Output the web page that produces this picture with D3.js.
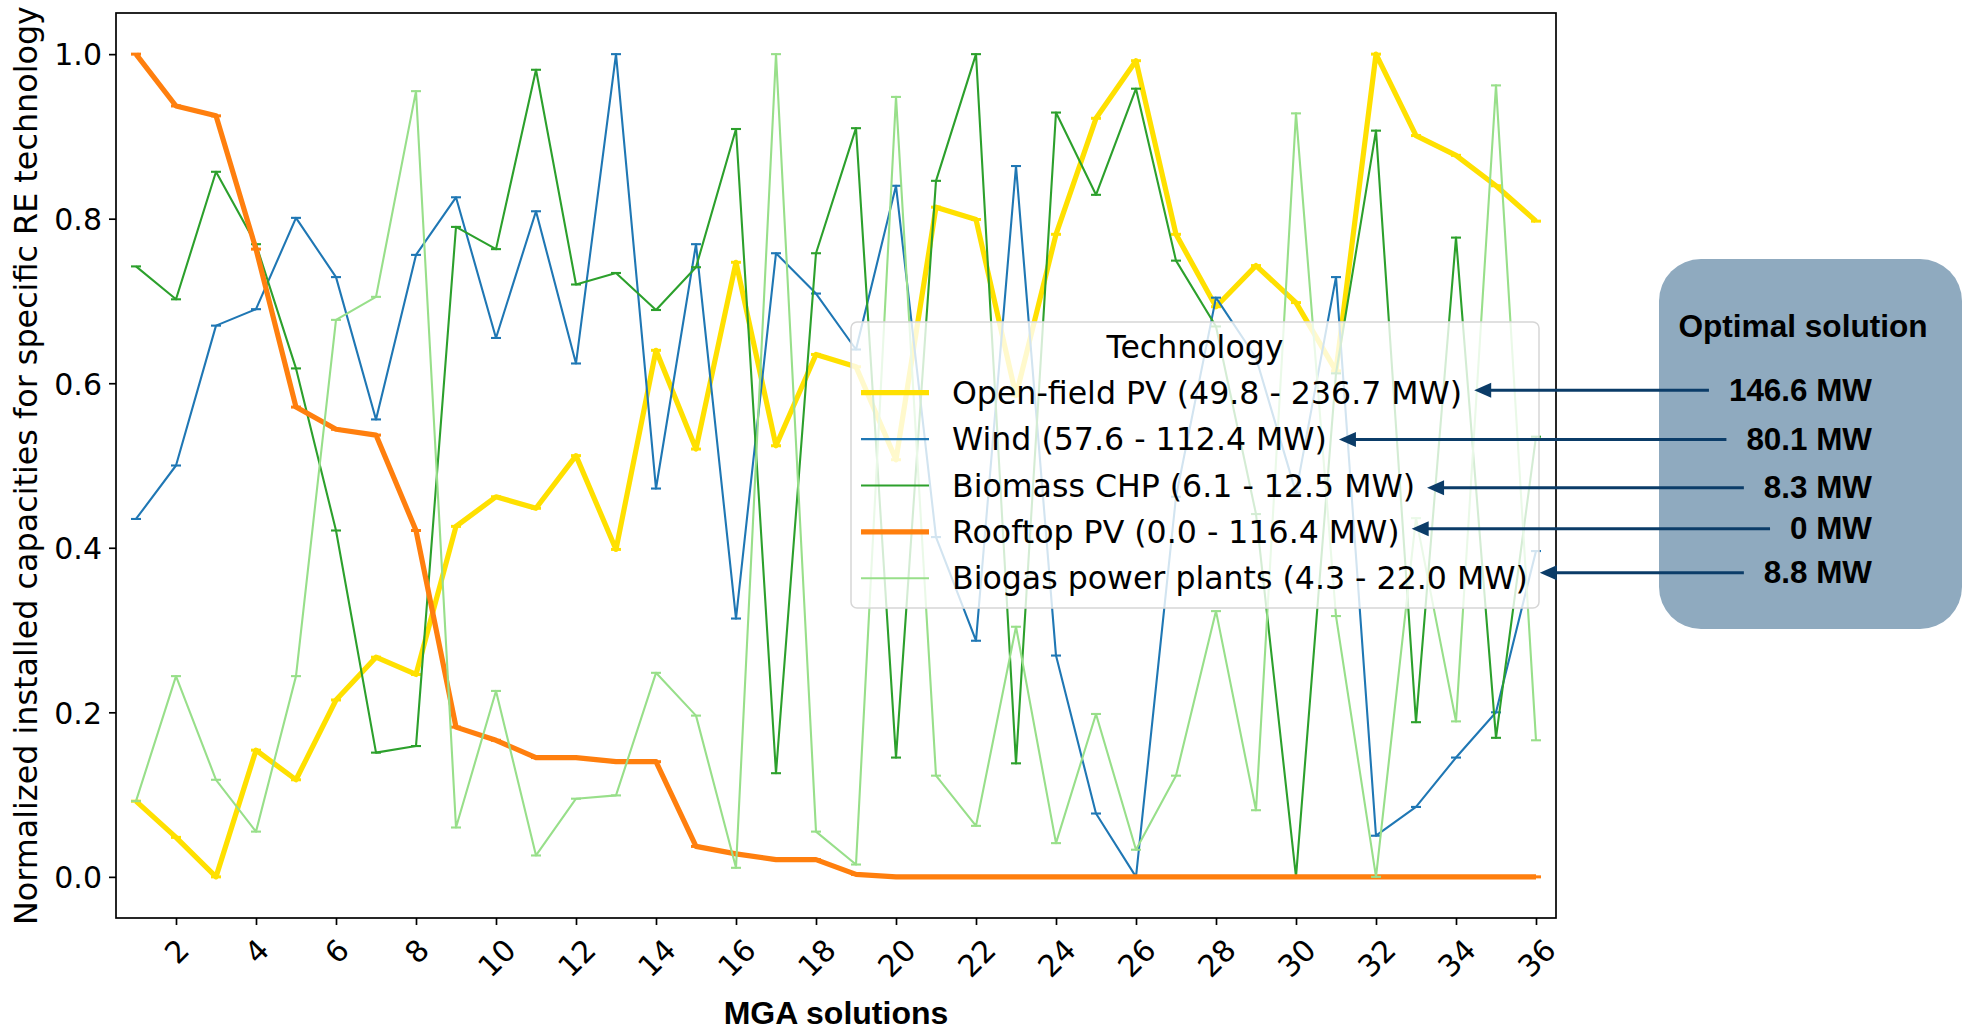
<!DOCTYPE html>
<html><head><meta charset="utf-8">
<script src="https://cdn.jsdelivr.net/npm/d3@7/dist/d3.min.js"></script>
<style>html,body{margin:0;padding:0;background:#fff}svg{display:block}</style>
</head><body>
<script>
// ---------------- data ----------------
const solutions = [1,2,3,4,5,6,7,8,9,10,11,12,13,14,15,16,17,18,19,20,21,22,23,24,25,26,27,28,29,30,31,32,33,34,35,36];
const openFieldPV = [0.092,0.048,0.0,0.154,0.118,0.215,0.267,0.246,0.426,0.462,0.448,0.512,0.398,0.640,0.520,0.747,0.524,0.635,0.620,0.507,0.814,0.799,0.585,0.781,0.922,0.992,0.781,0.693,0.743,0.698,0.615,1.0,0.901,0.877,0.840,0.797];
const wind = [0.435,0.500,0.670,0.690,0.801,0.729,0.556,0.756,0.826,0.655,0.809,0.624,1.0,0.472,0.769,0.314,0.758,0.709,0.641,0.840,0.413,0.287,0.864,0.269,0.077,0.0,0.462,0.704,0.631,0.467,0.729,0.050,0.085,0.145,0.200,0.396];
const biomassCHP = [0.742,0.702,0.857,0.769,0.618,0.421,0.151,0.159,0.790,0.763,0.981,0.720,0.734,0.689,0.741,0.909,0.126,0.758,0.910,0.145,0.846,1.0,0.138,0.929,0.829,0.958,0.749,0.669,0.441,0.0,0.612,0.907,0.188,0.777,0.169,0.535];
const rooftopPV = [1.0,0.937,0.925,0.763,0.571,0.544,0.537,0.421,0.182,0.166,0.145,0.145,0.140,0.140,0.037,0.028,0.021,0.021,0.003,0,0,0,0,0,0,0,0,0,0,0,0,0,0,0,0,0];
const biogas = [0.092,0.244,0.118,0.055,0.244,0.677,0.705,0.955,0.060,0.226,0.026,0.095,0.099,0.248,0.196,0.011,1.0,0.055,0.015,0.948,0.123,0.062,0.304,0.041,0.198,0.033,0.123,0.323,0.081,0.928,0.317,0.0,0.436,0.189,0.962,0.166];
const seriesLabels = ["Open-field PV (49.8 - 236.7 MW)","Wind (57.6 - 112.4 MW)","Biomass CHP (6.1 - 12.5 MW)","Rooftop PV (0.0 - 116.4 MW)","Biogas power plants (4.3 - 22.0 MW)"];
const optimalValues = ["146.6 MW","80.1 MW","8.3 MW","0 MW","8.8 MW"];
const yTickValues = [0,0.2,0.4,0.6,0.8,1.0];
const xTickValues = [2,4,6,8,10,12,14,16,18,20,22,24,26,28,30,32,34,36];
const legendTitle = "Technology";
const xTitle = "MGA solutions";
const yTitle = "Normalized installed capacities for specific RE technology";
const boxTitle = "Optimal solution";

// ---------------- styles ----------------
const seriesValues = [openFieldPV, wind, biomassCHP, rooftopPV, biogas];
const seriesColors = ["#FFE000","#1f77b4","#2ca02c","#ff7f0e","#98df8a"];
const seriesWidths = [5.2, 2.1, 2.1, 5.2, 2.1];

const W = 1966, H = 1030;
const plot = {left:116, right:1556, top:13, bottom:918};
const FONT = "'DejaVu Sans', sans-serif";
const BOLD = "'Liberation Sans', Arial, sans-serif";

const svg = d3.select("body").append("svg").attr("width", W).attr("height", H);

const x = d3.scaleLinear().domain([0.5, 36.5]).range([plot.left, plot.right]);
const y = d3.scaleLinear().domain([-0.05, 1.05]).range([plot.bottom, plot.top]);

// axes
const yAx = svg.append("g").attr("transform", `translate(${plot.left},0)`)
  .call(d3.axisLeft(y).tickValues(yTickValues).tickFormat(d3.format(".1f")).tickSize(7).tickPadding(7));
yAx.select(".domain").remove();
yAx.selectAll(".tick line").attr("stroke","#000").attr("stroke-width",1.7);
yAx.selectAll(".tick text").attr("font-family",FONT).attr("font-size",30).attr("fill","#000").attr("dy","0.36em");

const xAx = svg.append("g").attr("transform", `translate(0,${plot.bottom})`)
  .call(d3.axisBottom(x).tickValues(xTickValues).tickFormat(d3.format("d")).tickSize(7));
xAx.select(".domain").remove();
xAx.selectAll(".tick line").attr("stroke","#000").attr("stroke-width",1.7);
xAx.selectAll(".tick text").attr("font-family",FONT).attr("font-size",30).attr("fill","#000")
  .attr("y",null).attr("dy","0.36em").attr("text-anchor","middle")
  .each(function(){
    const w = this.getComputedTextLength();
    const h = 35;
    const cy = 14 + (w + h) / (2*Math.SQRT2);
    d3.select(this).attr("transform", `translate(0,${cy}) rotate(-45)`);
  });

// series
const clipId = "plotclip";
svg.append("clipPath").attr("id", clipId).append("rect")
  .attr("x", plot.left).attr("y", plot.top).attr("width", plot.right-plot.left).attr("height", plot.bottom-plot.top);
const gSeries = svg.append("g").attr("clip-path", `url(#${clipId})`);
const line = d3.line().x((d,i)=>x(solutions[i])).y(d=>y(d));
seriesValues.forEach((vals, k) => {
  const g = gSeries.append("g");
  g.append("path").datum(vals).attr("d", line).attr("fill","none")
    .attr("stroke", seriesColors[k]).attr("stroke-width", seriesWidths[k])
    .attr("stroke-linejoin","round").attr("stroke-linecap","butt");
  g.selectAll("line.mk").data(vals).enter().append("line").attr("class","mk")
    .attr("x1",(d,i)=>x(solutions[i])-5).attr("x2",(d,i)=>x(solutions[i])+5)
    .attr("y1",d=>y(d)).attr("y2",d=>y(d))
    .attr("stroke", seriesColors[k]).attr("stroke-width", Math.min(seriesWidths[k], 3));
});

// frame
svg.append("rect").attr("x",plot.left).attr("y",plot.top)
  .attr("width",plot.right-plot.left).attr("height",plot.bottom-plot.top)
  .attr("fill","none").attr("stroke","#000").attr("stroke-width",1.7);

// axis titles
svg.append("text").attr("x", (plot.left+plot.right)/2).attr("y", 1024)
  .attr("text-anchor","middle").attr("font-family",BOLD).attr("font-weight","bold")
  .attr("font-size",32).attr("fill","#000").text(xTitle);
svg.append("text").attr("transform", `translate(37,${(plot.top+plot.bottom)/2}) rotate(-90)`)
  .attr("text-anchor","middle").attr("font-family",FONT).attr("font-size",31.8).attr("fill","#000").text(yTitle);

// legend
const leg = {x:851, y:322, w:688, h:286, row0:392.7, rowH:46.4, hx0:861, hx1:929, tx:952};
const gLeg = svg.append("g");
gLeg.append("rect").attr("x",leg.x).attr("y",leg.y).attr("width",leg.w).attr("height",leg.h)
  .attr("rx",6).attr("fill","#fff").attr("fill-opacity",0.8).attr("stroke","#d6d6d6").attr("stroke-width",1.5);
gLeg.append("text").attr("x",leg.x+leg.w/2).attr("y",358).attr("text-anchor","middle")
  .attr("font-family",FONT).attr("font-size",31.6).attr("fill","#000").text(legendTitle);
const labelEnds = [];
seriesLabels.forEach((lab,k)=>{
  const ry = leg.row0 + k*leg.rowH;
  gLeg.append("line").attr("x1",leg.hx0).attr("x2",leg.hx1).attr("y1",ry).attr("y2",ry)
    .attr("stroke",seriesColors[k]).attr("stroke-width",seriesWidths[k]);
  const t = gLeg.append("text").attr("x",leg.tx).attr("y",ry).attr("dy","0.35em")
    .attr("font-family",FONT).attr("font-size",31.6).attr("fill","#000").text(lab);
  labelEnds.push(leg.tx + t.node().getComputedTextLength());
});

// optimal solution box
const box = {x:1659, y:259, w:303, h:370, r:42};
svg.append("rect").attr("x",box.x).attr("y",box.y).attr("width",box.w).attr("height",box.h)
  .attr("rx",box.r).attr("fill","#8FAABF");
svg.append("text").attr("x",1803).attr("y",337).attr("text-anchor","middle")
  .attr("font-family",BOLD).attr("font-weight","bold").attr("font-size",31.6).attr("fill","#000").text(boxTitle);
const valueBaselines = [400.7, 450, 498.3, 539.3, 583.3];
const arrowColor = "#0B3C68";
optimalValues.forEach((v,k)=>{
  const t = svg.append("text").attr("x",1872).attr("y",valueBaselines[k]).attr("text-anchor","end")
    .attr("font-family",BOLD).attr("font-weight","bold").attr("font-size",31.4).attr("fill","#000").text(v);
  const left = 1872 - t.node().getComputedTextLength();
  const ay = valueBaselines[k] - 10.5;
  const tip = labelEnds[k] + 12;
  svg.append("line").attr("x1", left - 20).attr("x2", tip + 12).attr("y1", ay).attr("y2", ay)
    .attr("stroke", arrowColor).attr("stroke-width", 3);
  svg.append("path").attr("d", `M${tip},${ay} L${tip+17},${ay-7.5} L${tip+17},${ay+7.5} Z`).attr("fill", arrowColor);
});
</script>
</body></html>
